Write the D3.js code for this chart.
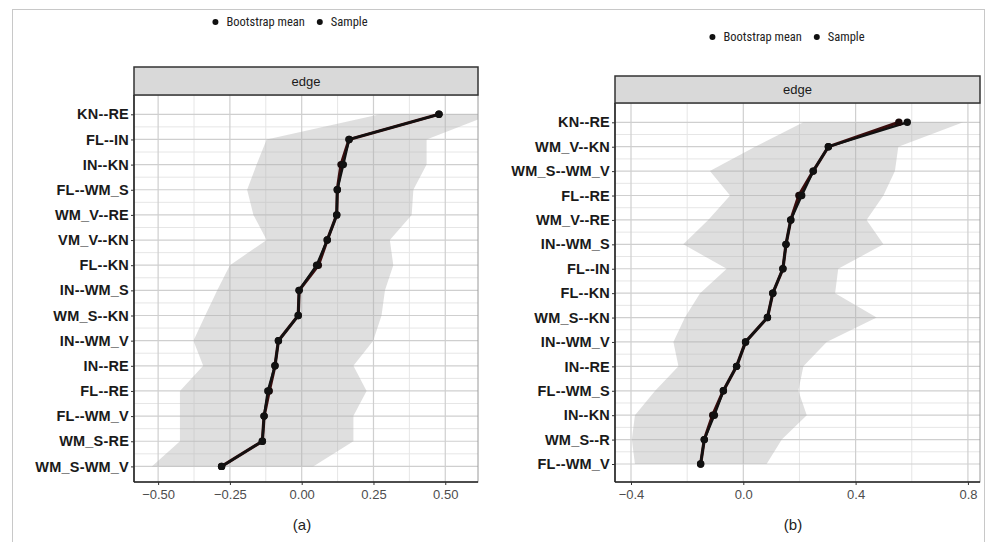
<!DOCTYPE html>
<html lang="en">
<head>
<meta charset="UTF-8">
<title>Bootstrap edges</title>
<script src="https://d3js.org/d3.v7.min.js"></script>
<style>
  body { margin: 0; background: #fff; font-family: "Liberation Sans", Arial, sans-serif; }
  .ylab { font-size: 14.5px; font-weight: bold; fill: #1a1a1a; letter-spacing: 0.2px; }
  .xlab { font-size: 13px; fill: #4d4d4d; }
  .legend text { font-family: "Liberation Sans Narrow", "Roboto Condensed", "Liberation Sans", sans-serif; font-size: 12.5px; fill: #222; }
</style>
</head>
<body>
<div id="chart"></div>
<script>
// panel (a)
var labelsA = ["KN--RE","FL--IN","IN--KN","FL--WM_S","WM_V--RE","VM_V--KN","FL--KN","IN--WM_S","WM_S--KN","IN--WM_V","IN--RE","FL--RE","FL--WM_V","WM_S-RE","WM_S-WM_V"];
var meanA   = [0.478,0.165,0.137,0.124,0.122,0.089,0.058,-0.009,-0.012,-0.081,-0.093,-0.113,-0.131,-0.137,-0.279];
var sampleA = [0.478,0.165,0.145,0.124,0.122,0.089,0.052,-0.009,-0.012,-0.081,-0.093,-0.118,-0.131,-0.137,-0.279];
var lowerA  = [0.273,-0.122,-0.157,-0.19,-0.168,-0.122,-0.25,-0.294,-0.336,-0.377,-0.343,-0.424,-0.424,-0.424,-0.522];
var upperA  = [0.66,0.435,0.435,0.389,0.383,0.307,0.319,0.29,0.278,0.249,0.18,0.226,0.18,0.18,0.04];
var ticksA  = [-0.5,-0.25,0,0.25,0.5];

// panel (b)
var labelsB = ["KN--RE","WM_V--KN","WM_S--WM_V","FL--RE","WM_V--RE","IN--WM_S","FL--IN","FL--KN","WM_S--KN","IN--WM_V","IN--RE","FL--WM_S","IN--KN","WM_S--R","FL--WM_V"];
var meanB   = [0.554,0.303,0.249,0.198,0.169,0.152,0.141,0.105,0.086,0.008,-0.024,-0.071,-0.109,-0.139,-0.152];
var sampleB = [0.584,0.303,0.249,0.208,0.169,0.152,0.141,0.105,0.086,0.008,-0.024,-0.071,-0.103,-0.139,-0.152];
var lowerB  = [0.214,0.042,-0.119,-0.047,-0.125,-0.214,-0.059,-0.154,-0.208,-0.249,-0.231,-0.314,-0.386,-0.397,-0.386];
var upperB  = [0.783,0.552,0.54,0.499,0.439,0.499,0.338,0.327,0.475,0.297,0.214,0.196,0.226,0.137,0.083];
var ticksB  = [-0.4,0,0.4,0.8];

var legendNames = ["Bootstrap mean", "Sample"];

var svg = d3.select("#chart").append("svg")
    .attr("width", 987)
    .attr("height", 542);

// light frame round the whole figure
svg.append("rect")
    .attr("x", 12.5).attr("y", 9.5).attr("width", 972).attr("height", 540)
    .attr("fill", "none").attr("stroke", "#c8c8c8");

function drawPanel(p) {
    var g = svg.append("g");
    var x = d3.scaleLinear().domain(p.domain).range([p.left, p.right]);
    var y = d3.scalePoint().domain(p.labels).range([p.rowTop, p.rowBottom]);
    var step = y.step();

    var rows = p.labels.map(function(l, i) {
        return { label: l, mean: p.mean[i], sample: p.sample[i], lo: p.lower[i], hi: p.upper[i] };
    });

    var clipId = "clip" + p.name;
    svg.append("clipPath").attr("id", clipId)
        .append("rect")
        .attr("x", p.left).attr("y", p.stripBottom)
        .attr("width", p.right - p.left).attr("height", p.bottom - p.stripBottom);

    // grid
    var minorX = [];
    for (var i = 0; i < p.ticks.length + 1; i++) {
        var a = i === 0 ? p.ticks[0] - (p.ticks[1] - p.ticks[0]) : p.ticks[i - 1];
        var b = i === p.ticks.length ? p.ticks[i - 1] + (p.ticks[1] - p.ticks[0]) : p.ticks[i];
        var m = (a + b) / 2;
        if (m > p.domain[0] && m < p.domain[1]) minorX.push(m);
    }
    g.selectAll(".minx").data(minorX).enter().append("line")
        .attr("x1", function(d) { return x(d); }).attr("x2", function(d) { return x(d); })
        .attr("y1", p.stripBottom).attr("y2", p.bottom)
        .attr("stroke", "#e6e6e6").attr("stroke-width", 1);
    var minorY = p.labels.slice(1).map(function(l) { return y(l) - step / 2; });
    g.selectAll(".miny").data(minorY).enter().append("line")
        .attr("x1", p.left).attr("x2", p.right)
        .attr("y1", function(d) { return d; }).attr("y2", function(d) { return d; })
        .attr("stroke", "#e6e6e6").attr("stroke-width", 1);
    g.selectAll(".majx").data(p.ticks).enter().append("line")
        .attr("x1", function(d) { return x(d); }).attr("x2", function(d) { return x(d); })
        .attr("y1", p.stripBottom).attr("y2", p.bottom)
        .attr("stroke", "#cfcfcf").attr("stroke-width", 1.2);
    g.selectAll(".majy").data(p.labels).enter().append("line")
        .attr("x1", p.left).attr("x2", p.right)
        .attr("y1", function(d) { return y(d); }).attr("y2", function(d) { return y(d); })
        .attr("stroke", "#cfcfcf").attr("stroke-width", 1.2);

    // confidence band
    var area = d3.area()
        .y(function(d) { return y(d.label); })
        .x0(function(d) { return x(d.lo); })
        .x1(function(d) { return x(d.hi); });
    g.append("path").datum(rows)
        .attr("clip-path", "url(#" + clipId + ")")
        .attr("d", area)
        .attr("fill", "#b0b0b0").attr("fill-opacity", 0.4);

    // lines and points
    var lineMean = d3.line().x(function(d) { return x(d.mean); }).y(function(d) { return y(d.label); });
    var lineSample = d3.line().x(function(d) { return x(d.sample); }).y(function(d) { return y(d.label); });
    g.append("path").datum(rows).attr("d", lineMean)
        .attr("fill", "none").attr("stroke", "#3a0d0d").attr("stroke-width", 3.2);
    g.append("path").datum(rows).attr("d", lineSample)
        .attr("fill", "none").attr("stroke", "#111").attr("stroke-width", 2.4);
    g.selectAll(".pm").data(rows).enter().append("circle")
        .attr("cx", function(d) { return x(d.mean); }).attr("cy", function(d) { return y(d.label); })
        .attr("r", 3.7).attr("fill", "#1a0a0a");
    g.selectAll(".ps").data(rows).enter().append("circle")
        .attr("cx", function(d) { return x(d.sample); }).attr("cy", function(d) { return y(d.label); })
        .attr("r", 3.7).attr("fill", "#111");

    // panel border
    g.append("rect")
        .attr("x", p.left).attr("y", p.stripBottom)
        .attr("width", p.right - p.left).attr("height", p.bottom - p.stripBottom)
        .attr("fill", "none").attr("stroke", "#9a9a9a").attr("stroke-width", 1);

    // axes
    var yAxis = d3.axisLeft(y).tickSize(3).tickPadding(2);
    var ya = g.append("g").attr("transform", "translate(" + p.left + ",0)").call(yAxis);
    ya.select(".domain").attr("d", "M0," + p.stripBottom + "V" + p.bottom).attr("stroke", "#222").attr("stroke-width", 1.6);
    ya.selectAll(".tick line").attr("stroke", "#333");
    ya.selectAll(".tick text").attr("class", "ylab").attr("fill", null);

    var xAxis = d3.axisBottom(x).tickValues(p.ticks).tickSize(3).tickPadding(5)
        .tickFormat(p.format);
    var xa = g.append("g").attr("transform", "translate(0," + p.bottom + ")").call(xAxis);
    xa.select(".domain").attr("d", "M" + p.left + ",0H" + p.right).attr("stroke", "#222").attr("stroke-width", 1.6);
    xa.selectAll(".tick line").attr("stroke", "#333");
    xa.selectAll(".tick text").attr("class", "xlab").attr("fill", null);

    // strip
    g.append("rect")
        .attr("x", p.left).attr("y", p.stripTop)
        .attr("width", p.right - p.left).attr("height", p.stripBottom - p.stripTop)
        .attr("fill", "#d9d9d9").attr("stroke", "#333").attr("stroke-width", 1.5);
    g.append("text")
        .attr("x", (p.left + p.right) / 2).attr("y", (p.stripTop + p.stripBottom) / 2)
        .attr("dy", "0.35em").attr("text-anchor", "middle")
        .style("font-size", "13px").style("fill", "#1a1a1a")
        .text("edge");

    // caption
    g.append("text")
        .attr("x", p.captionX).attr("y", 530)
        .attr("text-anchor", "middle")
        .style("font-size", "15px").style("fill", "#222")
        .text(p.caption);

    // legend
    var lg = g.append("g").attr("class", "legend");
    var cx = 0;
    legendNames.forEach(function(name) {
        lg.append("circle").attr("cx", cx + 3).attr("cy", 0).attr("r", 3).attr("fill", "#111");
        var t = lg.append("text").attr("x", cx + 14).attr("y", 0).attr("dy", "0.35em").text(name);
        cx += 14 + t.node().getComputedTextLength() + 12;
    });
    var w = cx - 12;
    lg.attr("transform", "translate(" + (p.legendX - w / 2) + "," + p.legendY + ")");
}

drawPanel({
    name: "A", labels: labelsA, mean: meanA, sample: sampleA, lower: lowerA, upper: upperA,
    ticks: ticksA, domain: [-0.584, 0.614], format: d3.format(".2f"),
    left: 134, right: 478, stripTop: 67, stripBottom: 95, bottom: 482,
    rowTop: 114.3, rowBottom: 466.4, caption: "(a)", captionX: 302,
    legendX: 290, legendY: 22
});

drawPanel({
    name: "B", labels: labelsB, mean: meanB, sample: sampleB, lower: lowerB, upper: upperB,
    ticks: ticksB, domain: [-0.457, 0.843], format: d3.format(".1f"),
    left: 615, right: 980, stripTop: 76, stripBottom: 103, bottom: 482,
    rowTop: 122.3, rowBottom: 464, caption: "(b)", captionX: 793,
    legendX: 787, legendY: 37
});
</script>
</body>
</html>
